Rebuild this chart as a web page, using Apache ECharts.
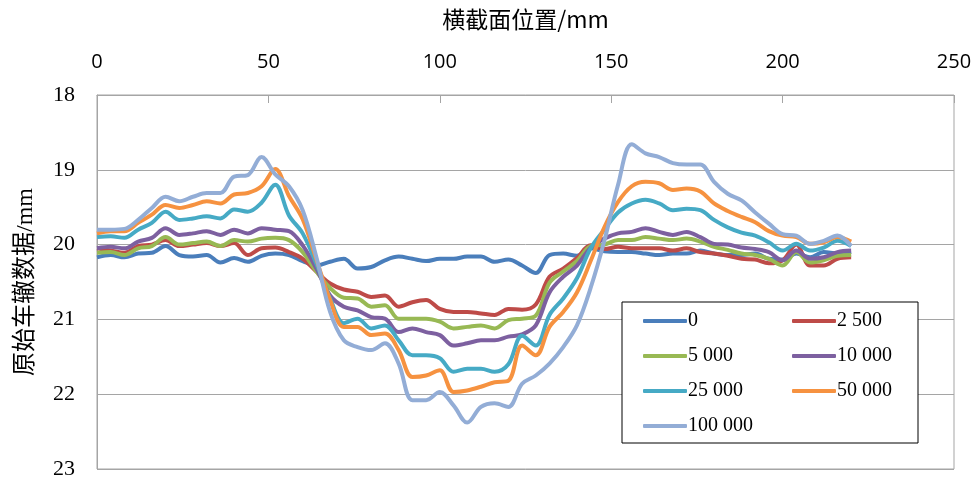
<!DOCTYPE html>
<html>
<head>
<meta charset="utf-8">
<script src="https://cdn.jsdelivr.net/npm/echarts@6/dist/echarts.min.js"></script>
<style>
html,body{margin:0;padding:0;background:#fff;}
#c{width:977px;height:479px;}
</style>
</head>
<body>
<div id="c"></div>
<script>
var positions = [0,4,8,12,16,20,24,28,32,36,40,44,48,52,56,60,64,68,72,76,80,84,88,92,96,100,104,108,112,116,120,124,128,132,136,140,144,148,152,156,160,164,168,172,176,180,184,188,192,196,200,204,208,212,216,220];

var seriesNames = ['0','2 500','5 000','10 000','25 000','50 000','100 000'];

var s0 = [20.17,20.14,20.17,20.12,20.11,20.02,20.14,20.16,20.14,20.24,20.18,20.23,20.15,20.12,20.14,20.22,20.28,20.23,20.19,20.32,20.30,20.21,20.16,20.19,20.22,20.19,20.19,20.16,20.16,20.23,20.20,20.28,20.38,20.14,20.12,20.15,20.05,20.09,20.10,20.10,20.12,20.14,20.12,20.12,20.08,20.12,20.14,20.14,20.12,20.19,20.20,20.12,20.17,20.10,20.12,20.10];
var s2500 = [20.05,20.08,20.11,20.02,20.00,19.94,20.02,20.00,19.98,20.02,19.98,20.14,20.05,20.04,20.10,20.19,20.36,20.52,20.60,20.63,20.70,20.68,20.83,20.77,20.74,20.86,20.90,20.90,20.92,20.94,20.86,20.87,20.80,20.43,20.32,20.18,20.01,20.06,20.03,20.05,20.05,20.05,20.08,20.05,20.10,20.12,20.15,20.19,20.20,20.25,20.21,20.00,20.28,20.28,20.19,20.17];
var s5000 = [20.11,20.10,20.14,20.05,20.02,19.90,20.00,19.98,19.96,20.02,19.94,19.96,19.92,19.91,19.94,20.10,20.36,20.58,20.71,20.72,20.83,20.81,20.99,20.99,20.99,21.03,21.12,21.10,21.08,21.12,21.01,20.99,20.95,20.51,20.36,20.22,20.02,20.00,19.94,19.94,19.90,19.92,19.94,19.92,19.96,20.03,20.07,20.12,20.14,20.19,20.28,20.10,20.24,20.21,20.15,20.14];
var s10000 = [20.05,20.03,20.05,19.96,19.91,19.78,19.87,19.85,19.82,19.87,19.80,19.85,19.78,19.80,19.82,20.01,20.32,20.68,20.83,20.88,20.97,20.99,21.17,21.12,21.17,21.21,21.35,21.32,21.28,21.28,21.23,21.20,21.08,20.64,20.43,20.28,20.04,19.92,19.85,19.83,19.78,19.83,19.87,19.83,19.90,19.99,20.00,20.04,20.06,20.10,20.21,20.08,20.19,20.17,20.10,20.08];
var s25000 = [19.90,19.89,19.91,19.80,19.71,19.56,19.67,19.65,19.62,19.65,19.53,19.56,19.44,19.20,19.61,19.85,20.26,20.72,21.05,20.99,21.12,21.08,21.28,21.48,21.48,21.52,21.70,21.66,21.66,21.70,21.60,21.22,21.35,20.94,20.72,20.45,20.05,19.80,19.57,19.45,19.40,19.45,19.54,19.52,19.54,19.67,19.77,19.84,19.88,19.97,20.08,19.99,20.08,20.04,19.95,20.02];
var s50000 = [19.85,19.82,19.82,19.71,19.60,19.47,19.51,19.47,19.42,19.45,19.33,19.31,19.22,18.99,19.35,19.66,20.20,20.74,21.10,21.10,21.21,21.19,21.41,21.77,21.75,21.68,21.97,21.95,21.90,21.84,21.82,21.35,21.48,21.10,20.90,20.64,20.22,19.77,19.43,19.22,19.16,19.18,19.27,19.25,19.29,19.45,19.55,19.63,19.70,19.82,19.88,19.90,19.99,19.97,19.90,19.96];
var s100000 = [19.80,19.80,19.79,19.67,19.51,19.36,19.42,19.36,19.31,19.31,19.09,19.07,18.83,19.06,19.22,19.54,20.17,20.90,21.28,21.37,21.41,21.32,21.59,22.08,22.08,21.97,22.15,22.38,22.17,22.12,22.17,21.86,21.75,21.59,21.37,21.08,20.58,19.95,19.20,18.66,18.78,18.83,18.91,18.93,18.93,19.16,19.32,19.41,19.57,19.72,19.86,19.88,19.99,19.95,19.88,20.02];

var xTicks = [0,50,100,150,200,250];
var yTicks = [18,19,20,21,22,23];

var colors = ['#4a7ebb','#be4b48','#98b954','#7d60a0','#46aac5','#f69240','#93add6'];
var allSeries = [s0,s2500,s5000,s10000,s25000,s50000,s100000];

var chart = echarts.init(document.getElementById('c'), null, {renderer:'canvas'});

var series = allSeries.map(function(vals, k){
  return {
    name: seriesNames[k],
    type: 'line',
    data: positions.map(function(x,i){ return [x, vals[i]]; }),
    smooth: 0.35,
    showSymbol: false,
    symbol: 'none',
    lineStyle: {width: 4, color: colors[k]},
    itemStyle: {color: colors[k]},
    animation: false
  };
});

var legendCommon = {
  orient: 'vertical',
  icon: 'roundRect',
  itemWidth: 44,
  itemHeight: 4,
  itemGap: 15,
  z: 10,
  textStyle: {fontFamily: 'Liberation Serif', fontSize: 20, color: '#000', padding: [0,0,0,-4]},
  selectedMode: false
};

chart.setOption({
  animation: false,
  color: colors,
  grid: {left: 97, top: 95, right: 23, bottom: 10, show: true, borderColor: '#a5a5a5', borderWidth: 1, containLabel: false, outerBoundsMode: 'none'},
  xAxis: {
    type: 'value',
    position: 'top',
    min: xTicks[0],
    max: xTicks[xTicks.length-1],
    interval: 50,
    name: '横截面位置/mm',
    nameLocation: 'middle',
    nameGap: 64,
    nameTextStyle: {fontFamily: 'Noto Sans CJK SC', fontSize: 23, color: '#000'},
    axisLine: {show: true, lineStyle: {color: '#a5a5a5', width: 1}},
    axisTick: {show: true, inside: true, length: 8, lineStyle: {color: '#a5a5a5'}},
    axisLabel: {fontFamily: 'Open Sans', fontSize: 20, color: '#000', margin: 23},
    splitLine: {show: false}
  },
  yAxis: {
    type: 'value',
    inverse: true,
    min: yTicks[0],
    max: yTicks[yTicks.length-1],
    interval: 1,
    name: '原始车辙数据/mm',
    nameLocation: 'middle',
    nameGap: 59,
    nameTextStyle: {fontFamily: 'Liberation Serif, Noto Sans CJK SC', fontSize: 24, color: '#000'},
    axisLine: {show: true, lineStyle: {color: '#a5a5a5', width: 1}},
    axisTick: {show: false},
    axisLabel: {fontFamily: 'Liberation Serif', fontSize: 22, color: '#000', margin: 22},
    splitLine: {show: true, lineStyle: {color: '#a5a5a5', width: 1}}
  },
  legend: [
    Object.assign({left: 638, top: 306, data: [seriesNames[0], seriesNames[2], seriesNames[4], seriesNames[6]]}, legendCommon),
    Object.assign({left: 787, top: 306, data: [seriesNames[1], seriesNames[3], seriesNames[5]]}, legendCommon)
  ],
  graphic: [{
    type: 'rect',
    z: 3,
    shape: {x: 622, y: 302, width: 296, height: 141},
    style: {fill: '#fff', stroke: '#000', lineWidth: 1}
  }],
  series: series
});
</script>
</body>
</html>
